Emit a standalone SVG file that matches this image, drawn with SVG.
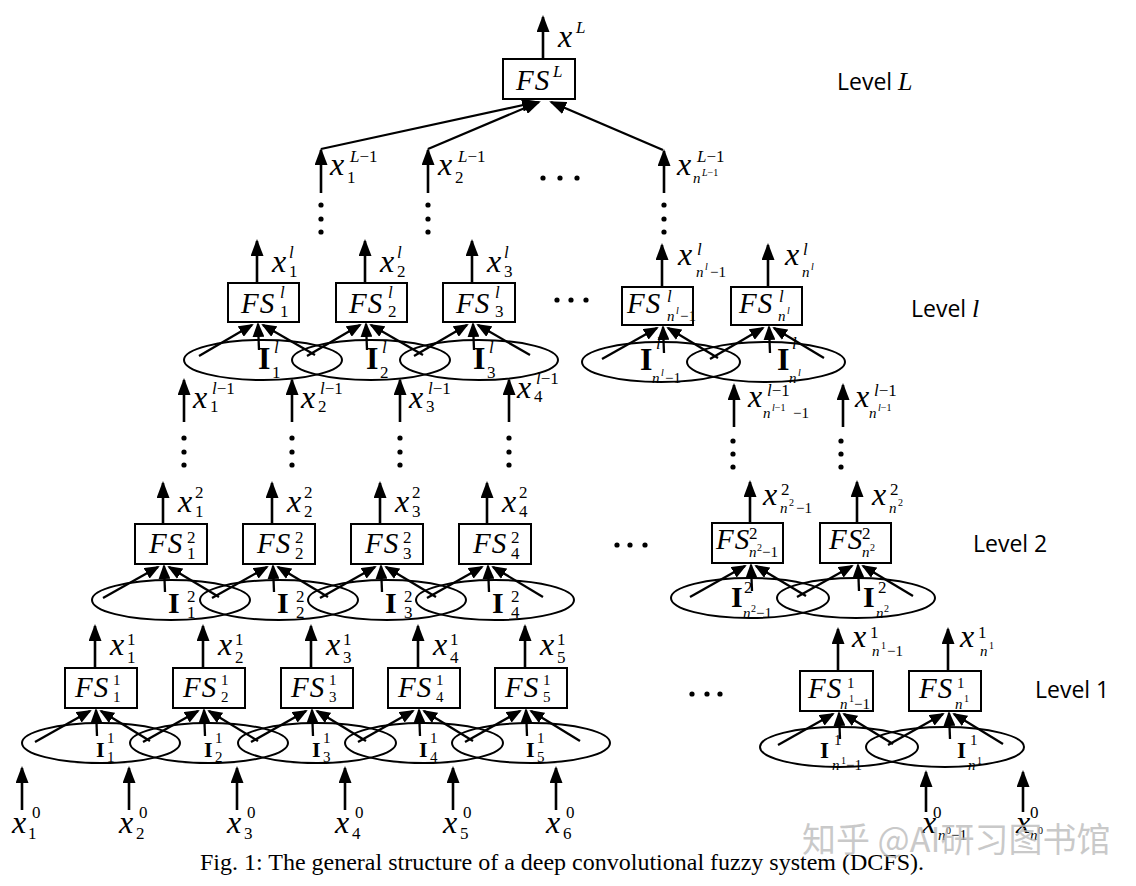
<svg xmlns="http://www.w3.org/2000/svg" width="1136" height="886" viewBox="0 0 1136 886">
<defs>
<marker id="ah" viewBox="0 0 17 13" markerWidth="17" markerHeight="13" refX="15" refY="6.5" orient="auto" markerUnits="userSpaceOnUse"><path d="M0,0 L17,6.5 L0,13 z" fill="#000"/></marker>
<marker id="as" viewBox="0 0 15 12" markerWidth="15" markerHeight="12" refX="13" refY="6" orient="auto" markerUnits="userSpaceOnUse"><path d="M0,0 L15,6 L0,12 z" fill="#000"/></marker>
<style>
.ln{stroke:#000;stroke-width:2.6;fill:none;marker-end:url(#ah)}
.cv{stroke:#000;stroke-width:2.3;fill:none;marker-end:url(#as)}
.ll{stroke:#000;stroke-width:2.3;fill:none;marker-end:url(#ah)}
.box{fill:#fff;stroke:#000;stroke-width:2}
.ell{fill:none;stroke:#000;stroke-width:2}
.m{font-family:"Liberation Serif",serif;font-style:italic;font-size:32px}
.fs{font-family:"Liberation Serif",serif;font-style:italic;font-size:29px;letter-spacing:1px}
.s{font-family:"Liberation Serif",serif;font-style:normal;font-size:17px}
.si{font-family:"Liberation Serif",serif;font-style:italic;font-size:17px}
.t{font-family:"Liberation Serif",serif;font-style:normal;font-size:15px}
.ti{font-family:"Liberation Serif",serif;font-style:italic;font-size:15px}
.u{font-family:"Liberation Serif",serif;font-style:normal;font-size:10px}
.ui{font-family:"Liberation Serif",serif;font-style:italic;font-size:10px}
.I{font-family:"Liberation Serif",serif;font-weight:bold}
.lvl{font-family:"Open Sans",sans-serif;font-size:23px}
.cap{font-family:"Liberation Serif",serif;font-size:24px}
.dot{fill:#000}
</style>
</defs>
<rect width="1136" height="886" fill="#fff"/>

<!-- ===== Level L ===== -->
<g id="levelL">
<g id="fsL">
<rect class="box" x="503" y="59" width="72" height="40"/>
<text class="fs" x="516" y="90" font-size="31">FS</text>
<text class="si" x="553" y="77">L</text>
</g>
<text class="m" x="558" y="47" font-size="34">x</text><text class="si" x="576" y="33">L</text>
<text class="m" x="330" y="175" font-size="34">x</text><text class="si" x="350" y="162">L<tspan class="s">−1</tspan></text><text class="s" x="347" y="183">1</text>
<text class="m" x="438" y="175" font-size="34">x</text><text class="si" x="458" y="162">L<tspan class="s">−1</tspan></text><text class="s" x="455" y="183">2</text>
<text class="m" x="677" y="175" font-size="34">x</text><text class="si" x="697" y="162">L<tspan class="s">−1</tspan></text><text class="ti" x="693" y="183">n</text><text class="ui" x="702" y="176">L<tspan class="u">−1</tspan></text>
<text class="lvl" x="837" y="90">Level <tspan font-family="Liberation Serif" font-style="italic" font-size="26">L</tspan></text>
</g>

<!-- ===== Level l ===== -->
<g id="levell">
<g id="fsl1"><rect class="box" x="228" y="283" width="71" height="39"/><text class="fs" x="241" y="313">FS</text><text class="si" x="280" y="298">l</text><text class="s" x="280" y="317">1</text></g>
<g id="fsl2"><rect class="box" x="336" y="283" width="71" height="39"/><text class="fs" x="349" y="313">FS</text><text class="si" x="388" y="298">l</text><text class="s" x="388" y="317">2</text></g>
<g id="fsl3"><rect class="box" x="443" y="283" width="72" height="39"/><text class="fs" x="456" y="313">FS</text><text class="si" x="495" y="298">l</text><text class="s" x="495" y="317">3</text></g>
<g id="fslA"><rect class="box" x="622" y="287" width="71" height="38"/><text class="fs" x="627" y="313">FS</text><text class="si" x="667" y="302">l</text><text class="ti" x="667" y="321">n</text><text class="ui" x="676" y="314">l</text><text class="t" x="680" y="321">−1</text></g>
<g id="fslB"><rect class="box" x="731" y="287" width="71" height="38"/><text class="fs" x="739" y="313">FS</text><text class="si" x="779" y="302">l</text><text class="ti" x="778" y="321">n</text><text class="ui" x="787" y="314">l</text></g>
<g id="ell-l">
<ellipse class="ell" cx="263" cy="360" rx="79" ry="20"/>
<ellipse class="ell" cx="371" cy="360" rx="79" ry="20"/>
<ellipse class="ell" cx="479" cy="360" rx="79" ry="20"/>
<ellipse class="ell" cx="661" cy="362" rx="79" ry="20"/>
<ellipse class="ell" cx="766" cy="362" rx="79" ry="20"/>
</g>
<text class="m" x="272" y="272">x</text><text class="si" x="289" y="258">l</text><text class="s" x="289" y="277">1</text>
<text class="m" x="380" y="272">x</text><text class="si" x="397" y="258">l</text><text class="s" x="397" y="277">2</text>
<text class="m" x="487" y="272">x</text><text class="si" x="504" y="258">l</text><text class="s" x="504" y="277">3</text>
<text class="m" x="678" y="265">x</text><text class="si" x="697" y="255">l</text><text class="ti" x="696" y="277">n</text><text class="ui" x="705" y="270">l</text><text class="t" x="710" y="277">−1</text>
<text class="m" x="785" y="265">x</text><text class="si" x="803" y="255">l</text><text class="ti" x="802" y="277">n</text><text class="ui" x="811" y="270">l</text>
<text class="I" x="258" y="369" font-size="32">I</text><text class="si" x="274" y="353">l</text><text class="s" x="272" y="378">1</text>
<text class="I" x="366" y="369" font-size="32">I</text><text class="si" x="382" y="353">l</text><text class="s" x="380" y="378">2</text>
<text class="I" x="473" y="369" font-size="32">I</text><text class="si" x="489" y="353">l</text><text class="s" x="487" y="378">3</text>
<text class="I" x="640" y="370" font-size="32">I</text><text class="si" x="656" y="349">l</text><text class="ti" x="652" y="383">n</text><text class="ui" x="661" y="376">l</text><text class="t" x="665" y="383">−1</text>
<text class="I" x="777" y="370" font-size="32">I</text><text class="si" x="792" y="349">l</text><text class="ti" x="789" y="383">n</text><text class="ui" x="798" y="376">l</text>
<text class="m" x="193" y="408">x</text><text class="si" x="212" y="394">l<tspan class="s">−1</tspan></text><text class="s" x="210" y="412">1</text>
<text class="m" x="301" y="408">x</text><text class="si" x="320" y="394">l<tspan class="s">−1</tspan></text><text class="s" x="318" y="412">2</text>
<text class="m" x="409" y="408">x</text><text class="si" x="428" y="394">l<tspan class="s">−1</tspan></text><text class="s" x="426" y="412">3</text>
<text class="m" x="517" y="398">x</text><text class="si" x="536" y="384">l<tspan class="s">−1</tspan></text><text class="s" x="534" y="402">4</text>
<text class="m" x="748" y="407">x</text><text class="si" x="767" y="396">l<tspan class="s">−1</tspan></text><text class="ti" x="763" y="418">n</text><text class="ui" x="772" y="411">l<tspan class="u">−1</tspan></text><text class="t" x="793" y="418">−1</text>
<text class="m" x="855" y="407">x</text><text class="si" x="874" y="396">l<tspan class="s">−1</tspan></text><text class="ti" x="869" y="418">n</text><text class="ui" x="878" y="411">l<tspan class="u">−1</tspan></text>
<text class="lvl" x="911" y="317">Level <tspan font-family="Liberation Serif" font-style="italic" font-size="26">l</tspan></text>
</g>

<!-- ===== Level 2 ===== -->
<g id="level2">
<g id="fs21"><rect class="box" x="135" y="524" width="72" height="40"/><text class="fs" x="149" y="553">FS</text><text class="s" x="187" y="543">2</text><text class="s" x="187" y="559">1</text></g>
<g id="fs22"><rect class="box" x="243" y="524" width="72" height="40"/><text class="fs" x="257" y="553">FS</text><text class="s" x="295" y="543">2</text><text class="s" x="295" y="559">2</text></g>
<g id="fs23"><rect class="box" x="351" y="524" width="72" height="40"/><text class="fs" x="365" y="553">FS</text><text class="s" x="403" y="543">2</text><text class="s" x="403" y="559">3</text></g>
<g id="fs24"><rect class="box" x="459" y="524" width="72" height="40"/><text class="fs" x="473" y="553">FS</text><text class="s" x="511" y="543">2</text><text class="s" x="511" y="559">4</text></g>
<g id="fs2A"><rect class="box" x="712" y="523" width="71" height="40"/><text class="fs" x="716" y="549" font-size="27">FS</text><text class="s" x="749" y="539">2</text><text class="ti" x="749" y="557">n</text><text class="u" x="757" y="551">2</text><text class="t" x="762" y="557">−1</text></g>
<g id="fs2B"><rect class="box" x="820" y="523" width="71" height="40"/><text class="fs" x="829" y="549" font-size="27">FS</text><text class="s" x="862" y="539">2</text><text class="ti" x="862" y="557">n</text><text class="u" x="870" y="551">2</text></g>
<g id="ell-2">
<ellipse class="ell" cx="171" cy="600" rx="79" ry="20"/>
<ellipse class="ell" cx="279" cy="600" rx="79" ry="20"/>
<ellipse class="ell" cx="387" cy="600" rx="79" ry="20"/>
<ellipse class="ell" cx="495" cy="600" rx="79" ry="20"/>
<ellipse class="ell" cx="750" cy="598" rx="79" ry="20"/>
<ellipse class="ell" cx="856" cy="598" rx="79" ry="20"/>
</g>
<text class="m" x="178" y="512">x</text><text class="s" x="195" y="498">2</text><text class="s" x="195" y="517">1</text>
<text class="m" x="287" y="512">x</text><text class="s" x="304" y="498">2</text><text class="s" x="304" y="517">2</text>
<text class="m" x="395" y="512">x</text><text class="s" x="412" y="498">2</text><text class="s" x="412" y="517">3</text>
<text class="m" x="502" y="512">x</text><text class="s" x="519" y="498">2</text><text class="s" x="519" y="517">4</text>
<text class="m" x="763" y="505">x</text><text class="s" x="781" y="495">2</text><text class="ti" x="780" y="513">n</text><text class="u" x="789" y="506">2</text><text class="t" x="796" y="513">−1</text>
<text class="m" x="872" y="505">x</text><text class="s" x="890" y="495">2</text><text class="ti" x="889" y="513">n</text><text class="u" x="898" y="506">2</text>
<text class="I" x="168" y="613" font-size="30">I</text><text class="s" x="187" y="602">2</text><text class="s" x="187" y="618">1</text>
<text class="I" x="277" y="613" font-size="30">I</text><text class="s" x="296" y="602">2</text><text class="s" x="296" y="618">2</text>
<text class="I" x="385" y="613" font-size="30">I</text><text class="s" x="404" y="602">2</text><text class="s" x="404" y="618">3</text>
<text class="I" x="492" y="613" font-size="30">I</text><text class="s" x="511" y="602">2</text><text class="s" x="511" y="618">4</text>
<text class="I" x="731" y="607" font-size="30">I</text><text class="s" x="744" y="593">2</text><text class="ti" x="743" y="618">n</text><text class="u" x="751" y="612">2</text><text class="t" x="756" y="618">−1</text>
<text class="I" x="863" y="607" font-size="30">I</text><text class="s" x="878" y="593">2</text><text class="ti" x="876" y="618">n</text><text class="u" x="884" y="612">2</text>
<text class="lvl" x="973" y="552">Level 2</text>
</g>

<!-- ===== Level 1 ===== -->
<g id="level1">
<g id="fs11"><rect class="box" x="65" y="668" width="72" height="40"/><text class="fs" x="75" y="697">FS</text><text class="t" x="113" y="685">1</text><text class="t" x="113" y="702">1</text></g>
<g id="fs12"><rect class="box" x="173" y="668" width="72" height="40"/><text class="fs" x="183" y="697">FS</text><text class="t" x="221" y="685">1</text><text class="t" x="221" y="702">2</text></g>
<g id="fs13"><rect class="box" x="281" y="668" width="72" height="40"/><text class="fs" x="291" y="697">FS</text><text class="t" x="329" y="685">1</text><text class="t" x="329" y="702">3</text></g>
<g id="fs14"><rect class="box" x="388" y="668" width="72" height="40"/><text class="fs" x="398" y="697">FS</text><text class="t" x="436" y="685">1</text><text class="t" x="436" y="702">4</text></g>
<g id="fs15"><rect class="box" x="495" y="668" width="72" height="40"/><text class="fs" x="505" y="697">FS</text><text class="t" x="543" y="685">1</text><text class="t" x="543" y="702">5</text></g>
<g id="fs1A"><rect class="box" x="800" y="671" width="73" height="40"/><text class="fs" x="808" y="698">FS</text><text class="t" x="847" y="688">1</text><text class="ti" x="840" y="709">n</text><text class="u" x="849" y="702">1</text><text class="t" x="854" y="709">−1</text></g>
<g id="fs1B"><rect class="box" x="909" y="671" width="72" height="40"/><text class="fs" x="919" y="698">FS</text><text class="t" x="957" y="688">1</text><text class="ti" x="955" y="709">n</text><text class="u" x="964" y="702">1</text></g>
<g id="ell-1">
<ellipse class="ell" cx="101" cy="743" rx="79" ry="20"/>
<ellipse class="ell" cx="209" cy="743" rx="79" ry="20"/>
<ellipse class="ell" cx="317" cy="743" rx="79" ry="20"/>
<ellipse class="ell" cx="424" cy="743" rx="79" ry="20"/>
<ellipse class="ell" cx="531" cy="743" rx="79" ry="20"/>
<ellipse class="ell" cx="839" cy="747" rx="79" ry="20"/>
<ellipse class="ell" cx="945" cy="747" rx="79" ry="20"/>
</g>
<text class="m" x="110" y="655">x</text><text class="s" x="127" y="645">1</text><text class="s" x="127" y="663">1</text>
<text class="m" x="218" y="655">x</text><text class="s" x="235" y="645">1</text><text class="s" x="235" y="663">2</text>
<text class="m" x="326" y="655">x</text><text class="s" x="343" y="645">1</text><text class="s" x="343" y="663">3</text>
<text class="m" x="433" y="655">x</text><text class="s" x="450" y="645">1</text><text class="s" x="450" y="663">4</text>
<text class="m" x="540" y="655">x</text><text class="s" x="557" y="645">1</text><text class="s" x="557" y="663">5</text>
<text class="m" x="852" y="647">x</text><text class="s" x="870" y="638">1</text><text class="ti" x="872" y="656">n</text><text class="u" x="881" y="649">1</text><text class="t" x="887" y="656">−1</text>
<text class="m" x="960" y="647">x</text><text class="s" x="978" y="638">1</text><text class="ti" x="980" y="656">n</text><text class="u" x="989" y="649">1</text>
<text class="I" x="96" y="757" font-size="22">I</text><text class="t" x="107" y="743">1</text><text class="t" x="107" y="762">1</text>
<text class="I" x="204" y="757" font-size="22">I</text><text class="t" x="215" y="743">1</text><text class="t" x="215" y="762">2</text>
<text class="I" x="312" y="757" font-size="22">I</text><text class="t" x="323" y="743">1</text><text class="t" x="323" y="762">3</text>
<text class="I" x="419" y="757" font-size="22">I</text><text class="t" x="430" y="743">1</text><text class="t" x="430" y="762">4</text>
<text class="I" x="526" y="757" font-size="22">I</text><text class="t" x="537" y="743">1</text><text class="t" x="537" y="762">5</text>
<text class="I" x="820" y="758" font-size="23">I</text><text class="t" x="834" y="745">1</text><text class="ti" x="832" y="770">n</text><text class="u" x="841" y="764">1</text><text class="t" x="846" y="770">−1</text>
<text class="I" x="957" y="758" font-size="23">I</text><text class="t" x="970" y="745">1</text><text class="ti" x="968" y="770">n</text><text class="u" x="977" y="764">1</text>
<text class="lvl" x="1035" y="698">Level 1</text>
</g>

<!-- ===== Inputs (level 0) ===== -->
<g id="inputs">
<text class="m" x="12" y="833">x</text><text class="s" x="32" y="818" font-size="18">0</text><text class="s" x="28" y="839" font-size="18">1</text>
<text class="m" x="119" y="833">x</text><text class="s" x="139" y="818" font-size="18">0</text><text class="s" x="136" y="839" font-size="18">2</text>
<text class="m" x="227" y="833">x</text><text class="s" x="247" y="818" font-size="18">0</text><text class="s" x="244" y="839" font-size="18">3</text>
<text class="m" x="335" y="833">x</text><text class="s" x="355" y="818" font-size="18">0</text><text class="s" x="352" y="839" font-size="18">4</text>
<text class="m" x="443" y="833">x</text><text class="s" x="463" y="818" font-size="18">0</text><text class="s" x="460" y="839" font-size="18">5</text>
<text class="m" x="546" y="833">x</text><text class="s" x="566" y="818" font-size="18">0</text><text class="s" x="563" y="839" font-size="18">6</text>
<text class="m" x="922" y="833">x</text><text class="s" x="933" y="818" font-size="18">0</text><text class="ti" x="938" y="840">n</text><text class="u" x="946" y="834">0</text><text class="t" x="951" y="840">−1</text>
<text class="m" x="1016" y="833">x</text><text class="s" x="1030" y="818" font-size="18">0</text><text class="ti" x="1030" y="840">n</text><text class="u" x="1038" y="834">0</text>
</g>

<!-- ===== Connectors ===== -->
<g id="connectors">
<line class="ln" x1="543" y1="59" x2="543" y2="17"/>
<line class="ll" x1="321" y1="149" x2="537" y2="102"/>
<line class="ll" x1="428" y1="149" x2="539" y2="102"/>
<line class="ll" x1="663" y1="150" x2="551" y2="102"/>
<line class="ln" x1="321" y1="193" x2="321" y2="150"/>
<line class="ln" x1="428" y1="193" x2="428" y2="150"/>
<line class="ln" x1="664" y1="193" x2="664" y2="151"/>
<line class="ln" x1="257" y1="283" x2="257" y2="241"/>
<line class="ln" x1="365" y1="283" x2="365" y2="241"/>
<line class="ln" x1="472" y1="283" x2="472" y2="241"/>
<line class="ln" x1="662" y1="287" x2="662" y2="245"/>
<line class="ln" x1="768" y1="287" x2="768" y2="245"/>
<line class="cv" x1="199" y1="356" x2="252" y2="325"/><line class="cv" x1="259" y1="350" x2="258" y2="324"/><line class="cv" x1="315" y1="355" x2="263" y2="325"/>
<line class="cv" x1="307" y1="356" x2="360" y2="325"/><line class="cv" x1="367" y1="350" x2="366" y2="324"/><line class="cv" x1="423" y1="355" x2="371" y2="325"/>
<line class="cv" x1="414" y1="356" x2="467" y2="325"/><line class="cv" x1="474" y1="350" x2="473" y2="324"/><line class="cv" x1="530" y1="355" x2="478" y2="325"/>
<line class="cv" x1="602" y1="359" x2="657" y2="328"/><line class="cv" x1="664" y1="353" x2="663" y2="327"/><line class="cv" x1="718" y1="358" x2="668" y2="328"/>
<line class="cv" x1="710" y1="359" x2="763" y2="328"/><line class="cv" x1="770" y1="353" x2="769" y2="327"/><line class="cv" x1="824" y1="358" x2="774" y2="328"/>
<line class="ln" x1="184" y1="422" x2="184" y2="380"/>
<line class="ln" x1="292" y1="422" x2="292" y2="380"/>
<line class="ln" x1="400" y1="422" x2="400" y2="380"/>
<line class="ln" x1="509" y1="422" x2="509" y2="380"/>
<line class="ln" x1="734" y1="427" x2="734" y2="385"/>
<line class="ln" x1="843" y1="427" x2="843" y2="385"/>
<line class="ln" x1="163" y1="524" x2="163" y2="483"/>
<line class="ln" x1="272" y1="524" x2="272" y2="483"/>
<line class="ln" x1="380" y1="524" x2="380" y2="483"/>
<line class="ln" x1="487" y1="524" x2="487" y2="483"/>
<line class="ln" x1="750" y1="523" x2="750" y2="482"/>
<line class="ln" x1="857" y1="523" x2="857" y2="482"/>
<line class="cv" x1="103" y1="598" x2="158" y2="567"/><line class="cv" x1="165" y1="592" x2="164" y2="566"/><line class="cv" x1="219" y1="597" x2="169" y2="567"/>
<line class="cv" x1="212" y1="598" x2="267" y2="567"/><line class="cv" x1="274" y1="592" x2="273" y2="566"/><line class="cv" x1="328" y1="597" x2="278" y2="567"/>
<line class="cv" x1="320" y1="598" x2="375" y2="567"/><line class="cv" x1="382" y1="592" x2="381" y2="566"/><line class="cv" x1="436" y1="597" x2="386" y2="567"/>
<line class="cv" x1="427" y1="598" x2="482" y2="567"/><line class="cv" x1="489" y1="592" x2="488" y2="566"/><line class="cv" x1="543" y1="597" x2="493" y2="567"/>
<line class="cv" x1="690" y1="597" x2="745" y2="566"/><line class="cv" x1="752" y1="591" x2="751" y2="565"/><line class="cv" x1="806" y1="596" x2="756" y2="566"/>
<line class="cv" x1="797" y1="597" x2="852" y2="566"/><line class="cv" x1="859" y1="591" x2="858" y2="565"/><line class="cv" x1="913" y1="596" x2="863" y2="566"/>
<line class="ln" x1="95" y1="668" x2="95" y2="626"/>
<line class="ln" x1="203" y1="668" x2="203" y2="626"/>
<line class="ln" x1="311" y1="668" x2="311" y2="626"/>
<line class="ln" x1="418" y1="668" x2="418" y2="626"/>
<line class="ln" x1="525" y1="668" x2="525" y2="626"/>
<line class="ln" x1="838" y1="671" x2="838" y2="629"/>
<line class="ln" x1="948" y1="671" x2="948" y2="629"/>
<line class="cv" x1="35" y1="742" x2="90" y2="711"/><line class="cv" x1="97" y1="736" x2="96" y2="710"/><line class="cv" x1="150" y1="741" x2="101" y2="711"/>
<line class="cv" x1="143" y1="742" x2="198" y2="711"/><line class="cv" x1="205" y1="736" x2="204" y2="710"/><line class="cv" x1="258" y1="741" x2="209" y2="711"/>
<line class="cv" x1="251" y1="742" x2="306" y2="711"/><line class="cv" x1="313" y1="736" x2="312" y2="710"/><line class="cv" x1="366" y1="741" x2="317" y2="711"/>
<line class="cv" x1="358" y1="742" x2="413" y2="711"/><line class="cv" x1="420" y1="736" x2="419" y2="710"/><line class="cv" x1="473" y1="741" x2="424" y2="711"/>
<line class="cv" x1="465" y1="742" x2="520" y2="711"/><line class="cv" x1="527" y1="736" x2="526" y2="710"/><line class="cv" x1="580" y1="741" x2="531" y2="711"/>
<line class="cv" x1="778" y1="745" x2="833" y2="714"/><line class="cv" x1="840" y1="739" x2="839" y2="713"/><line class="cv" x1="893" y1="744" x2="844" y2="714"/>
<line class="cv" x1="888" y1="745" x2="943" y2="714"/><line class="cv" x1="950" y1="739" x2="949" y2="713"/><line class="cv" x1="1003" y1="744" x2="954" y2="714"/>
<line class="ln" x1="22" y1="810" x2="22" y2="768"/>
<line class="ln" x1="129" y1="810" x2="129" y2="768"/>
<line class="ln" x1="237" y1="810" x2="237" y2="768"/>
<line class="ln" x1="345" y1="810" x2="345" y2="768"/>
<line class="ln" x1="453" y1="810" x2="453" y2="768"/>
<line class="ln" x1="556" y1="810" x2="556" y2="768"/>
<line class="ln" x1="926" y1="812" x2="926" y2="772"/>
<line class="ln" x1="1023" y1="812" x2="1023" y2="772"/>
</g>

<g id="dots">
<circle class="dot" cx="321" cy="205" r="2.6"/><circle class="dot" cx="321" cy="219" r="2.6"/><circle class="dot" cx="321" cy="232" r="2.6"/>
<circle class="dot" cx="428" cy="205" r="2.6"/><circle class="dot" cx="428" cy="219" r="2.6"/><circle class="dot" cx="428" cy="232" r="2.6"/>
<circle class="dot" cx="664" cy="205" r="2.6"/><circle class="dot" cx="664" cy="219" r="2.6"/><circle class="dot" cx="664" cy="232" r="2.6"/>
<circle class="dot" cx="543" cy="178" r="2.6"/><circle class="dot" cx="560" cy="178" r="2.6"/><circle class="dot" cx="577" cy="178" r="2.6"/>
<circle class="dot" cx="557" cy="300" r="2.6"/><circle class="dot" cx="571" cy="300" r="2.6"/><circle class="dot" cx="586" cy="300" r="2.6"/>
<circle class="dot" cx="184" cy="438" r="2.6"/><circle class="dot" cx="184" cy="452" r="2.6"/><circle class="dot" cx="184" cy="465" r="2.6"/>
<circle class="dot" cx="292" cy="438" r="2.6"/><circle class="dot" cx="292" cy="452" r="2.6"/><circle class="dot" cx="292" cy="465" r="2.6"/>
<circle class="dot" cx="400" cy="438" r="2.6"/><circle class="dot" cx="400" cy="452" r="2.6"/><circle class="dot" cx="400" cy="465" r="2.6"/>
<circle class="dot" cx="509" cy="438" r="2.6"/><circle class="dot" cx="509" cy="452" r="2.6"/><circle class="dot" cx="509" cy="465" r="2.6"/>
<circle class="dot" cx="733" cy="441" r="2.6"/><circle class="dot" cx="733" cy="454" r="2.6"/><circle class="dot" cx="733" cy="467" r="2.6"/>
<circle class="dot" cx="841" cy="441" r="2.6"/><circle class="dot" cx="841" cy="454" r="2.6"/><circle class="dot" cx="841" cy="467" r="2.6"/>
<circle class="dot" cx="617" cy="545" r="2.6"/><circle class="dot" cx="630" cy="545" r="2.6"/><circle class="dot" cx="645" cy="545" r="2.6"/>
<circle class="dot" cx="692" cy="694" r="2.6"/><circle class="dot" cx="707" cy="694" r="2.6"/><circle class="dot" cx="720" cy="694" r="2.6"/>
</g>

<text class="cap" x="200" y="870">Fig. 1: The general structure of a deep convolutional fuzzy system (DCFS).</text>
<text x="802" y="852" font-family="'Noto Sans CJK SC', sans-serif" font-size="34" fill="#b8b8b8" fill-opacity="0.75">知乎 @AI研习图书馆</text>
</svg>
